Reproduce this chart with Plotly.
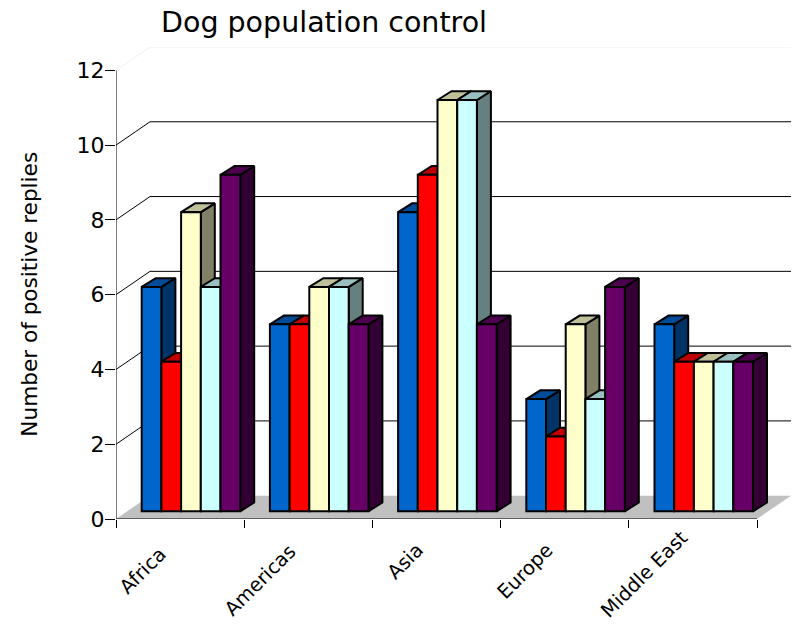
import plotly.graph_objects as go

categories = ["Africa", "Americas", "Asia", "Europe", "Middle East"]
series_names = ["Series 1", "Series 2", "Series 3", "Series 4", "Series 5"]
series_1 = [6, 5, 8, 3, 5]
series_2 = [4, 5, 9, 2, 4]
series_3 = [8, 6, 11, 5, 4]
series_4 = [6, 6, 11, 3, 4]
series_5 = [9, 5, 5, 6, 4]
all_series = [series_1, series_2, series_3, series_4, series_5]
y_ticks = [0, 2, 4, 6, 8, 10, 12]
front_colors = ["#0066CC", "#FF0000", "#FFFFCC", "#CCFFFF", "#660066"]
top_colors = ["#004C99", "#BF0000", "#BFBF99", "#99BFBF", "#4D004D"]
side_colors = ["#003366", "#800000", "#808066", "#668080", "#330033"]

# pixel geometry expressed in axis units
PX_X = 128.2
PX_Y = 37.38
wall_dx = 34 / PX_X
wall_dy = 23.3 / PX_Y
bar_dx = 14 / PX_X
bar_dy = 8.8 / PX_Y
base = 7.7 / PX_Y
start = 25.7 / PX_X
bar_w = 19.7 / PX_X
n_cat = len(categories)

# plot area in page pixels
PLOT_L, PLOT_R, PLOT_T, PLOT_B = 116, 791, 47, 519.5

# centres of the slanted category labels, in page pixels
label_px_x = [143, 260, 405, 525, 644]
label_px_y = [571, 581, 562, 572, 575]

fig = go.Figure()

# floor
fig.add_trace(go.Scatter(
    x=[0, wall_dx, n_cat + wall_dx, n_cat, 0],
    y=[0, wall_dy, wall_dy, 0, 0],
    mode="lines", fill="toself", fillcolor="#C0C0C0",
    line=dict(width=0), hoverinfo="skip", showlegend=False, zorder=0))

# walls: gridlines
for v in y_ticks[1:]:
    color = "#EEEEEE" if v == 12 else "#000000"
    fig.add_trace(go.Scatter(
        x=[0, wall_dx, n_cat + wall_dx],
        y=[v, v + wall_dy, v + wall_dy],
        mode="lines", line=dict(color=color, width=1),
        hoverinfo="skip", showlegend=False, zorder=0))

# left axis line, stops at 12
fig.add_trace(go.Scatter(
    x=[0, 0], y=[0, 12], mode="lines", line=dict(color="#000000", width=1),
    hoverinfo="skip", showlegend=False, zorder=1))

# front floor edge
fig.add_trace(go.Scatter(
    x=[0, n_cat], y=[0, 0], mode="lines", line=dict(color="#000000", width=1),
    hoverinfo="skip", showlegend=False, zorder=1))

for s, vals in enumerate(all_series):
    left = [i + start + s * bar_w for i in range(n_cat)]
    right = [l + bar_w for l in left]
    side_x, side_y, top_x, top_y = [], [], [], []
    for l, r, v in zip(left, right, vals):
        top = v + base
        side_x += [r, r + bar_dx, r + bar_dx, r, r, None]
        side_y += [base, base + bar_dy, top + bar_dy, top, base, None]
        top_x += [l, l + bar_dx, r + bar_dx, r, l, None]
        top_y += [top, top + bar_dy, top + bar_dy, top, top, None]
    z = 2 + s * 3
    outline = dict(color="#000000", width=2)
    fig.add_trace(go.Scatter(
        x=side_x, y=side_y, mode="lines", fill="toself",
        fillcolor=side_colors[s], line=outline,
        hoverinfo="skip", showlegend=False, zorder=z))
    fig.add_trace(go.Scatter(
        x=top_x, y=top_y, mode="lines", fill="toself",
        fillcolor=top_colors[s], line=outline,
        hoverinfo="skip", showlegend=False, zorder=z + 1))
    fig.add_trace(go.Bar(
        x=list(range(n_cat)), y=vals, base=base,
        width=bar_w, offset=start + s * bar_w,
        name=series_names[s],
        marker=dict(color=front_colors[s], line=outline),
        showlegend=False, zorder=z + 2))

annotations = [dict(
    text="Number of positive replies", textangle=-90, showarrow=False,
    xref="paper", x=(30 - PLOT_L) / (PLOT_R - PLOT_L), xanchor="center",
    yref="y", y=6.0, yanchor="middle",
    font=dict(size=21.6),
)]
for name, px, py in zip(categories, label_px_x, label_px_y):
    annotations.append(dict(
        text=name, textangle=-45, showarrow=False,
        xref="paper", x=(px - PLOT_L) / (PLOT_R - PLOT_L), xanchor="center",
        yref="paper", y=(PLOT_B - py) / (PLOT_B - PLOT_T), yanchor="middle",
        font=dict(size=19.5),
    ))

label_family = "DejaVu Sans"
fig.update_layout(
    width=799, height=627, autosize=False,
    margin=dict(l=116, r=8, t=47, b=107.5, pad=0),
    paper_bgcolor="#FFFFFF", plot_bgcolor="rgba(0,0,0,0)",
    font=dict(family=label_family, color="#000000"),
    title=dict(text="Dog population control", x=161 / 799, xanchor="left",
               y=1 - 22 / 627, yanchor="middle", automargin=False,
               font=dict(size=28.5, family=label_family, color="#000000")),
    barmode="overlay",
    xaxis=dict(
        automargin=False,
        range=[0, n_cat + wall_dx],
        tickmode="array",
        tickvals=list(range(n_cat + 1)),
        ticks="outside", ticklen=8, tickwidth=1, tickcolor="#000000",
        showticklabels=False,
        showgrid=False, zeroline=False,
        showline=False,
    ),
    yaxis=dict(
        automargin=False,
        range=[0, 12 + wall_dy],
        tickmode="array", tickvals=y_ticks, ticktext=[str(v) for v in y_ticks],
        ticks="outside", ticklen=10, tickwidth=1, tickcolor="#000000",
        ticklabelstandoff=-4,
        tickfont=dict(size=22),
        showgrid=False, zeroline=False, showline=False,
    ),
    annotations=annotations,
)

fig.write_html(
    "out.html",
    config={"displayModeBar": False},
    post_script="document.body.style.margin='0';document.documentElement.style.overflow='hidden';",
)
